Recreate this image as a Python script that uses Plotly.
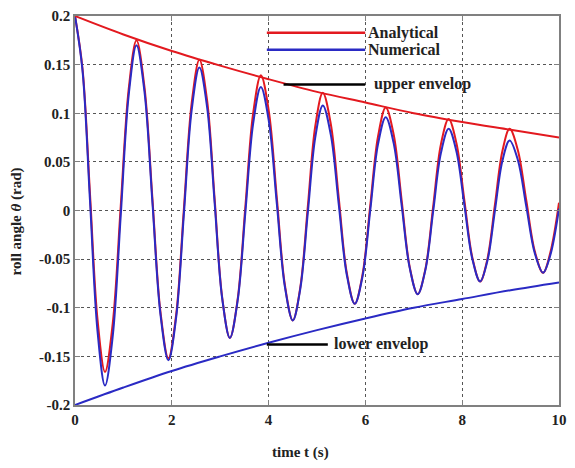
import plotly.graph_objects as go

# ---- data ----
t = [0, 0.155, 0.31, 0.465, 0.62, 0.78, 0.945, 1.11, 1.27, 1.435, 1.60, 1.765,
     1.93, 2.09, 2.25, 2.41, 2.57, 2.73, 2.885, 3.04, 3.2, 3.36, 3.52, 3.68,
     3.84, 4.005, 4.17, 4.335, 4.5, 4.655, 4.81, 4.965, 5.12, 5.285, 5.45, 5.615,
     5.78, 5.94, 6.10, 6.26, 6.42, 6.585, 6.75, 6.915, 7.08, 7.24, 7.40, 7.56,
     7.72, 7.88, 8.045, 8.21, 8.37, 8.52, 8.675, 8.83, 8.98, 9.15, 9.325, 9.50,
     9.67, 9.82, 10.0]

analytical = [0.2, 0.146, 0.017, -0.112, -0.166, -0.116, 0.0045, 0.125,
              0.175, 0.127, 0.012, -0.104, -0.152, -0.107, 0.002, 0.110,
              0.155, 0.113, 0.012, -0.089, -0.131, -0.0915, 0.004, 0.0995,
              0.139, 0.102, 0.013, -0.076, -0.113, -0.079, 0.004, 0.087,
              0.121, 0.089, 0.0125, -0.064, -0.096, -0.066, 0.005, 0.076,
              0.106, 0.078, 0.010, -0.058, -0.086, -0.060, 0.004, 0.068,
              0.094, 0.0695, 0.0105, -0.0485, -0.073, -0.050, 0.0055, 0.061,
              0.084, 0.062, 0.010, -0.042, -0.064, -0.0435, 0.008]

numerical = [0.2, 0.144, 0.010, -0.124, -0.180, -0.129, -0.005, 0.119,
             0.170, 0.1225, 0.008, -0.1065, -0.154, -0.110, -0.0035, 0.103,
             0.147, 0.106, 0.008, -0.090, -0.131, -0.093, -0.002, 0.089,
             0.127, 0.092, 0.007, -0.078, -0.113, -0.0805, -0.0025, 0.0755,
             0.108, 0.078, 0.006, -0.066, -0.096, -0.068, 0.0, 0.068,
             0.096, 0.069, 0.005, -0.059, -0.086, -0.061, -0.001, 0.059,
             0.084, 0.061, 0.0055, -0.050, -0.073, -0.052, -0.0005, 0.051,
             0.072, 0.052, 0.004, -0.044, -0.064, -0.046, 0.002]

t_env = [0, 1, 2, 3, 4, 5, 6, 7, 8, 9, 10]
upper_env = [0.2, 0.181, 0.164, 0.149, 0.135, 0.122, 0.111, 0.100, 0.091, 0.083, 0.075]
lower_env = [-0.2, -0.182, -0.165, -0.150, -0.136, -0.123, -0.111, -0.100, -0.091, -0.082, -0.074]

x_tickvals = [0, 2, 4, 6, 8, 10]
x_ticktext = ["0", "2", "4", "6", "8", "10"]
y_tickvals = [-0.2, -0.15, -0.1, -0.05, 0, 0.05, 0.1, 0.15, 0.2]
y_ticktext = ["-0.2", "-0.15", "-0.1", "-0.05", "0", "0.05", "0.1", "0.15", "0.2"]

legend_names = ["Analytical", "Numerical"]

RED = "#e3191f"
BLUE = "#2a2ac4"
FONT = "Liberation Serif"
TXT = "#222222"

# plot area in page pixels
PX0, PX1, PY0, PY1 = 75, 567, 13, 405


def px(xpix):
    return (xpix - PX0) / (PX1 - PX0)


def py(ypix):
    return (PY1 - ypix) / (PY1 - PY0)


fig = go.Figure()
fig.add_trace(go.Scatter(x=t, y=analytical, mode="lines", name=legend_names[0],
                         showlegend=False,
                         line=dict(color=RED, width=2, shape="spline", smoothing=1.0)))
fig.add_trace(go.Scatter(x=t, y=numerical, mode="lines", name=legend_names[1],
                         showlegend=False,
                         line=dict(color=BLUE, width=2, shape="spline", smoothing=1.0)))
fig.add_trace(go.Scatter(x=t_env, y=upper_env, mode="lines", showlegend=False,
                         name="upper envelop",
                         line=dict(color=RED, width=2, shape="spline")))
fig.add_trace(go.Scatter(x=t_env, y=lower_env, mode="lines", showlegend=False,
                         name="lower envelop",
                         line=dict(color=BLUE, width=2, shape="spline")))

# legend (drawn as in the reference: long line samples, no box)
for name, color, ypix in [(legend_names[0], RED, 30), (legend_names[1], BLUE, 47)]:
    fig.add_shape(type="line", xref="paper", yref="paper",
                  x0=px(270), x1=px(370), y0=py(ypix), y1=py(ypix),
                  line=dict(color=color, width=2.5))
    fig.add_annotation(xref="paper", yref="paper", x=px(371), y=py(ypix),
                       text="<b>%s</b>" % name, showarrow=False,
                       xanchor="left", yanchor="middle",
                       font=dict(family=FONT, size=16, color=TXT))

# envelope labels
fig.add_shape(type="line", xref="paper", yref="paper",
              x0=px(287), x1=px(370), y0=py(82), y1=py(82),
              line=dict(color="black", width=2.5))
fig.add_annotation(xref="paper", yref="paper", x=px(377), y=py(82),
                   text="<b>upper envelop</b>", showarrow=False,
                   xanchor="left", yanchor="middle",
                   font=dict(family=FONT, size=16, color=TXT))
fig.add_shape(type="line", xref="paper", yref="paper",
              x0=px(270), x1=px(332), y0=py(344), y1=py(344),
              line=dict(color="black", width=2.5))
fig.add_annotation(xref="paper", yref="paper", x=px(336), y=py(344),
                   text="<b>lower envelop</b>", showarrow=False,
                   xanchor="left", yanchor="middle",
                   font=dict(family=FONT, size=16, color=TXT))

# axis titles
fig.add_annotation(xref="paper", yref="paper", x=px(304), y=py(453),
                   text="<b>time t (s)</b>", showarrow=False,
                   xanchor="center", yanchor="middle",
                   font=dict(family=FONT, size=15, color=TXT))
fig.add_annotation(xref="paper", yref="paper", x=px(15), y=py(220),
                   text="<b>roll angle <i>θ</i> (rad)</b>", showarrow=False,
                   textangle=-90, xanchor="center", yanchor="middle",
                   font=dict(family=FONT, size=15, color=TXT))

axis_common = dict(
    showline=True, linecolor="#808080", linewidth=1.5, mirror="ticks",
    ticks="inside", ticklen=5, tickcolor="#808080", tickwidth=1,
    showgrid=True, gridcolor="#555555", gridwidth=1, griddash="dot",
    zeroline=False, ticklabeloverflow="allow",
    tickfont=dict(family=FONT, size=15, color=TXT),
)

fig.update_xaxes(range=[0, 10], tickmode="array", tickvals=x_tickvals,
                 ticktext=["<b>%s</b>" % s for s in x_ticktext], **axis_common)
fig.update_yaxes(range=[-0.2, 0.2], tickmode="array", tickvals=y_tickvals,
                 ticktext=["<b>%s</b>" % s for s in y_ticktext], **axis_common)

fig.update_layout(
    width=575, height=468,
    margin=dict(l=75, r=8, t=13, b=63),
    paper_bgcolor="white", plot_bgcolor="white",
    showlegend=False,
)

fig.write_html("out.html",
               config={"displayModeBar": False},
               post_script="document.body.style.margin='0';"
                           "document.body.style.overflow='hidden';")
